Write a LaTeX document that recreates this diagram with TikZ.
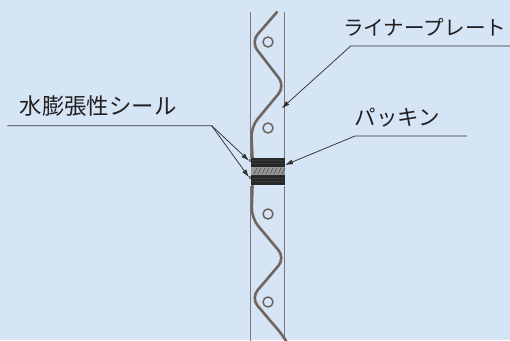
\documentclass[tikz,border=0pt]{standalone}
\usepackage{fontspec}
\newfontfamily\jpfont{Noto Sans CJK JP}
\usetikzlibrary{arrows.meta}
\definecolor{bg}{RGB}{213,229,245}
\definecolor{plate}{RGB}{128,118,113}
\definecolor{wave}{RGB}{112,102,97}
\definecolor{ink}{RGB}{35,31,32}
\definecolor{lead}{RGB}{50,50,50}
\definecolor{gdark}{RGB}{40,40,40}
\definecolor{ggray}{RGB}{150,150,150}
\begin{document}
\begin{tikzpicture}[x=1pt,y=-1pt,
  tag/.style={font={\jpfont\fontsize{21.5}{24}\selectfont}, text=ink, inner sep=0pt, anchor=west},
  leader/.style={draw=lead, line width=0.75pt},
  pointer/.style={leader, -{Latex[length=8pt,width=5pt]}},
  edgeline/.style={draw=plate, line width=1.1pt},
  wavy/.style={draw=wave, line width=2.6pt, rounded corners=10pt, line cap=round},
  hole/.style={draw=wave, line width=1.5pt, fill=bg}]

\fill[bg] (0,0) rectangle (510,340);
\useasboundingbox (0,0) rectangle (510,340);

% upper liner plate
\draw[edgeline] (250.5,12) -- (250.5,158);
\draw[edgeline] (284.5,12) -- (284.5,158);
\draw[wavy] (277,12) -- (251,42) -- (285,86) -- (251,127) -- (252.5,158);
\draw[hole] (268,42) circle (5);
\draw[hole] (268,128) circle (5);

% lower liner plate
\draw[edgeline] (250.5,186) -- (250.5,341);
\draw[edgeline] (284.5,186) -- (284.5,341);
\draw[wavy] (252.5,186) -- (251.5,218) -- (285,258) -- (251,298) -- (285,338) -- (287,342);
\draw[hole] (268,214) circle (5);
\draw[hole] (268,302) circle (5);

% packing between the plates
\fill[gdark] (250.5,158) rectangle (285,167);
\fill[ggray] (250.5,167) rectangle (285,175);
\fill[gdark] (250.5,175) rectangle (285,185);
\foreach \yy in {160.5,163.5,178,181.5}
  \draw[gray!45!black, line width=0.6pt] (252,\yy) -- (283.5,\yy);
\foreach \xx in {254,258,...,282}
  \draw[gray!60!black, line width=0.6pt] (\xx,174) -- (\xx+3,168);

% water-swelling seal strips
\fill[plate] (248.5,159) rectangle (251,161.5);
\fill[plate] (248.5,176) rectangle (251,178.5);

% labels
\node[tag, font={\jpfont\fontsize{20.6}{24}\selectfont}] (liner) at (343,27.5) {ライナープレート};
\node[tag] (packing) at (354.5,117.5) {パッキン};
\node[tag, font={\jpfont\fontsize{22.4}{24}\selectfont}] (seal) at (19.5,105.8) {水膨張性シール};

% leader lines
\coordinate (linerR) at (510,46);
\coordinate (linerL) at (350.7,46);
\coordinate (linerTip) at (281.7,108.3);
\coordinate (packR) at (467,136);
\coordinate (packL) at (355,136);
\coordinate (packTip) at (285,165);
\coordinate (sealL) at (7.3,125.7);
\coordinate (sealR) at (211.7,125.7);
\coordinate (sealTipA) at (249,160.7);
\coordinate (sealTipB) at (249,177.3);

\draw[pointer] (linerR) -- (linerL) -- (linerTip);
\draw[pointer] (packR) -- (packL) -- (packTip);
\draw[pointer] (sealL) -- (sealR) -- (sealTipA);
\draw[pointer] (sealR) -- (sealTipB);
\end{tikzpicture}
\end{document}
